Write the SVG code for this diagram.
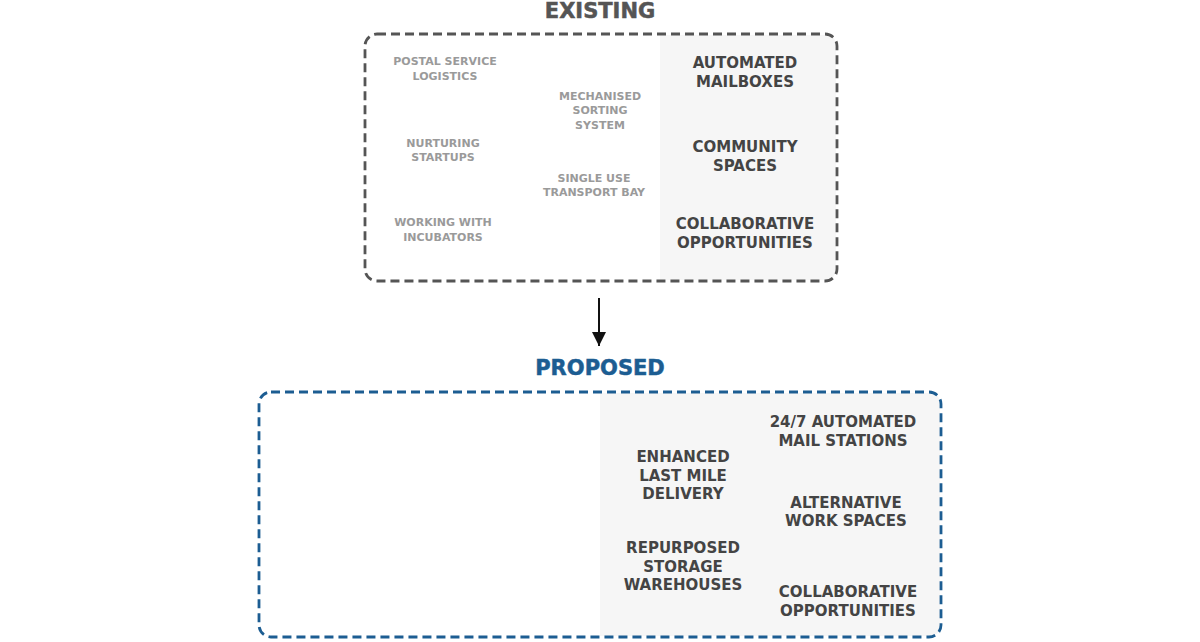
<svg xmlns="http://www.w3.org/2000/svg" width="1200" height="642" viewBox="0 0 1200 642">
<style>
text{font-family:"DejaVu Sans","Liberation Sans",sans-serif;font-weight:bold;text-anchor:middle}
.title{font-size:21px;stroke-width:0.5}
.lt{font-size:11px;fill:#9a9a9a}
.dk{font-size:15px;fill:#444}
.box{fill:none;stroke-width:2.8;stroke-dasharray:9 5}
.shade{fill:#f6f6f6}
</style>
<defs>
<marker id="ah" markerWidth="14" markerHeight="16" refX="14" refY="7" orient="auto" markerUnits="userSpaceOnUse">
<path d="M0,0 L14,7 L0,14 z" fill="#111"/>
</marker>
</defs>
<rect width="1200" height="642" fill="#fff"/>
<g id="existing">
<text class="title" x="600" y="18" fill="#555" stroke="#555">EXISTING</text>
<path class="shade" d="M660,35 H825 Q836,35 836,46 V268 Q836,280 825,280 H660 Z"/>
<rect class="box" x="365" y="34" width="472" height="247" rx="12" stroke="#555"/>
</g>
<g id="postal"><text class="lt" x="445" y="65">POSTAL SERVICE</text><text class="lt" x="445" y="80">LOGISTICS</text></g>
<g id="nurturing"><text class="lt" x="443" y="147">NURTURING</text><text class="lt" x="443" y="161">STARTUPS</text></g>
<g id="incubators"><text class="lt" x="443" y="226">WORKING WITH</text><text class="lt" x="443" y="241">INCUBATORS</text></g>
<g id="mechanised"><text class="lt" x="600" y="100">MECHANISED</text><text class="lt" x="600" y="114">SORTING</text><text class="lt" x="600" y="129">SYSTEM</text></g>
<g id="transport"><text class="lt" x="594" y="182">SINGLE USE</text><text class="lt" x="594" y="196">TRANSPORT BAY</text></g>
<g id="mailboxes"><text class="dk" x="745" y="68">AUTOMATED</text><text class="dk" x="745" y="87">MAILBOXES</text></g>
<g id="community"><text class="dk" x="745" y="152">COMMUNITY</text><text class="dk" x="745" y="171">SPACES</text></g>
<g id="collab1"><text class="dk" x="745" y="229">COLLABORATIVE</text><text class="dk" x="745" y="248">OPPORTUNITIES</text></g>
<g id="connectors">
<line x1="599" y1="298" x2="599" y2="346" stroke="#111" stroke-width="2" marker-end="url(#ah)"/>
</g>
<g id="proposed">
<text class="title" x="600" y="375" fill="#1c5d92" stroke="#1c5d92">PROPOSED</text>
<path class="shade" d="M600,393 H929 Q940,393 940,404 V625 Q940,636 929,636 H600 Z"/>
<rect class="box" x="259" y="392" width="682" height="245" rx="12" stroke="#1c5d92"/>
</g>
<g id="stations"><text class="dk" x="843" y="427">24/7 AUTOMATED</text><text class="dk" x="843" y="446">MAIL STATIONS</text></g>
<g id="lastmile"><text class="dk" x="683" y="462">ENHANCED</text><text class="dk" x="683" y="481">LAST MILE</text><text class="dk" x="683" y="499">DELIVERY</text></g>
<g id="workspaces"><text class="dk" x="846" y="508">ALTERNATIVE</text><text class="dk" x="846" y="526">WORK SPACES</text></g>
<g id="warehouses"><text class="dk" x="683" y="553">REPURPOSED</text><text class="dk" x="683" y="572">STORAGE</text><text class="dk" x="683" y="590">WAREHOUSES</text></g>
<g id="collab2"><text class="dk" x="848" y="597">COLLABORATIVE</text><text class="dk" x="848" y="616">OPPORTUNITIES</text></g>
</svg>
